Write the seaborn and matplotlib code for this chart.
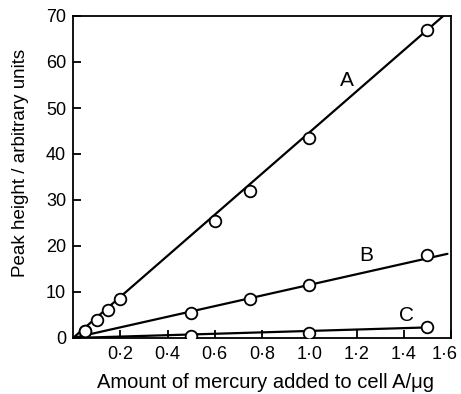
import matplotlib
matplotlib.use("Agg")
import matplotlib.pyplot as plt
import matplotlib.transforms as mtransforms
import seaborn as sns
import pandas as pd

# Data
a_x = [0.05, 0.10, 0.15, 0.20, 0.60, 0.75, 1.00, 1.50]
a_y = [1.5, 4.0, 6.0, 8.5, 25.5, 32.0, 43.5, 67.0]
b_x = [0.05, 0.50, 0.75, 1.00, 1.50]
b_y = [1.5, 5.5, 8.5, 11.5, 18.0]
c_x = [0.50, 1.00, 1.50]
c_y = [0.5, 1.0, 2.3]

# Fitted straight lines (endpoints)
fit_a_x = [0.0, 1.567]
fit_a_y = [0.0, 70.0]
fit_b_x = [0.0, 1.585]
fit_b_y = [0.0, 18.3]
fit_c_x = [0.0, 1.50]
fit_c_y = [0.0, 2.3]

labels = ["A", "B", "C"]
label_pos = [(1.16, 56.0), (1.24, 18.0), (1.41, 4.8)]

x_ticks = [0.2, 0.4, 0.6, 0.8, 1.0, 1.2, 1.4, 1.6]
x_tick_labels = ["0·2", "0·4", "0·6", "0·8", "1·0", "1·2", "1·4", "1·6"]
y_ticks = [0, 10, 20, 30, 40, 50, 60, 70]

sns.set_style("ticks")
plt.rcParams['font.family'] = ['Liberation Sans', 'DejaVu Sans']
plt.rcParams['text.color'] = 'black'
plt.rcParams['axes.labelcolor'] = 'black'

fig = plt.figure(figsize=(4.61, 3.94), dpi=100)
ax = fig.add_axes([73/461, 1 - 338/394, (451-73)/461, (338-16)/394])

for fx, fy in [(fit_a_x, fit_a_y), (fit_b_x, fit_b_y), (fit_c_x, fit_c_y)]:
    sns.lineplot(x=fx, y=fy, ax=ax, color="black", linewidth=1.6, zorder=2)

for px, py in [(a_x, a_y), (b_x, b_y), (c_x, c_y)]:
    sns.scatterplot(x=px, y=py, ax=ax, marker="o", s=70, facecolor="white",
                    edgecolor="black", linewidth=1.3, zorder=3)

for lab, (lx, ly) in zip(labels, label_pos):
    ax.text(lx, ly, lab, fontsize=15, ha="center", va="center", color="black")

ax.set_xlim(0, 1.6)
ax.set_ylim(0, 70)
ax.set_xticks(x_ticks)
ax.set_xticklabels(x_tick_labels)
ax.set_yticks(y_ticks)
ax.tick_params(direction="in", length=6, width=1.3, labelsize=13, colors="black", pad=5)
ax.tick_params(axis="x", pad=6)
for s in ax.spines.values():
    s.set_linewidth(1.3)
    s.set_color("black")

# nudge the last x tick label so it stays inside the figure
last = ax.get_xticklabels()[-1]
last.set_transform(last.get_transform() + mtransforms.ScaledTranslation(-6/100, 0, fig.dpi_scale_trans))

ax.set_xlabel("Amount of mercury added to cell A/μg", fontsize=14.5, va="center", color="black")
ax.xaxis.set_label_coords(0.51, -0.137)
ax.set_ylabel("Peak height / arbitrary units", fontsize=13.5, va="center", color="black")
ax.yaxis.set_label_coords(-0.14, 0.543)

fig.savefig("out.png", dpi=100)
